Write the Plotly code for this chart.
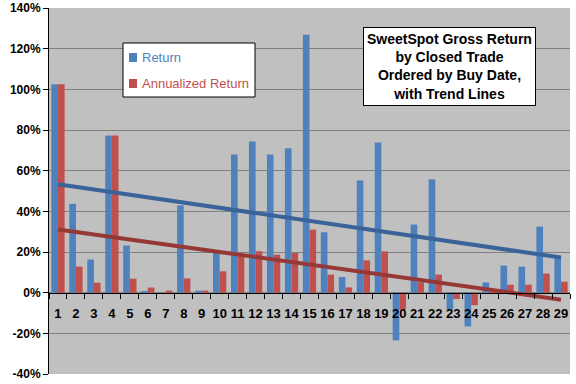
import numpy as np
import plotly.graph_objects as go

categories = [str(i) for i in range(1, 30)]
ret = [102.5, 43.7, 16.3, 77.3, 23.2, 0.5, 0.0, 42.9, 1.0, 19.5, 68.0, 74.4, 68.0, 71.0, 126.8,
       29.7, 7.7, 55.2, 73.9, -23.5, 33.5, 55.7, -8.4, -16.6, 5.0, 13.3, 12.8, 32.5, 17.4]
ann = [102.5, 12.8, 4.9, 77.3, 6.9, 2.5, 1.0, 7.0, 1.0, 10.5, 17.9, 20.4, 18.7, 19.5, 31.0,
       8.9, 2.6, 15.9, 20.3, -8.4, 5.1, 8.9, -3.1, -6.2, 0.3, 3.9, 3.9, 9.4, 5.4]
series_names = ["Return", "Annualized Return"]
y_ticks = list(range(-40, 141, 20))

xs = np.arange(1, len(categories) + 1)
fit_r = np.polyval(np.polyfit(xs, ret, 1), xs)
fit_a = np.polyval(np.polyfit(xs, ann, 1), xs)

BLUE = "#4F81BD"
RED = "#C0504D"
FONT = "Liberation Sans, Arial, sans-serif"

W, H = 576, 384
ML, MR, MT, MB = 49, 6, 8, 10
PW, PH = W - ML - MR, H - MT - MB


def px(x):
    return (x - ML) / PW


def py(y):
    return (H - MB - y) / PH


fig = go.Figure()
fig.add_trace(go.Bar(x=categories, y=ret, name=series_names[0],
                     marker=dict(color=BLUE, line=dict(width=0)), showlegend=False))
fig.add_trace(go.Bar(x=categories, y=ann, name=series_names[1],
                     marker=dict(color=RED, line=dict(width=0)), showlegend=False))
fig.add_trace(go.Scatter(x=categories, y=fit_r, mode="lines", line=dict(color="#3A6399", width=4),
                         showlegend=False))
fig.add_trace(go.Scatter(x=categories, y=fit_a, mode="lines", line=dict(color="#963836", width=4),
                         showlegend=False))

# manual legend (box, swatches, labels)
shapes = [
    dict(type="rect", xref="paper", yref="paper", x0=px(123), x1=px(255), y0=py(97), y1=py(43),
         fillcolor="white", line=dict(color="black", width=1), layer="above"),
    dict(type="rect", xref="paper", yref="paper", x0=px(129), x1=px(137), y0=py(62), y1=py(53),
         fillcolor=BLUE, line=dict(width=0), layer="above"),
    dict(type="rect", xref="paper", yref="paper", x0=px(129), x1=px(137), y0=py(88), y1=py(79),
         fillcolor=RED, line=dict(width=0), layer="above"),
]
annotations = [
    dict(xref="paper", yref="paper", x=px(140), y=py(57.5), xanchor="left", yanchor="middle",
         text=series_names[0], showarrow=False, font=dict(size=13, family=FONT, color=BLUE)),
    dict(xref="paper", yref="paper", x=px(140), y=py(83.5), xanchor="left", yanchor="middle",
         text=series_names[1], showarrow=False, font=dict(size=13, family=FONT, color=RED)),
    dict(xref="paper", yref="paper", x=px(449), y=py(67), xanchor="center", yanchor="middle",
         text="SweetSpot Gross Return<br>by Closed Trade<br>Ordered by Buy Date,<br>with Trend Lines",
         showarrow=False, align="center", bgcolor="white", bordercolor="black", borderwidth=1,
         borderpad=3, font=dict(size=14, family=FONT, color="black", weight="bold")),
]

fig.update_layout(
    width=W, height=H,
    margin=dict(l=ML, r=MR, t=MT, b=MB, autoexpand=False),
    paper_bgcolor="white", plot_bgcolor="#C0C0C0",
    barmode="group", bargap=0.26, bargroupgap=0,
    font=dict(family=FONT, color="black"),
    showlegend=False,
    xaxis=dict(type="category", anchor="free", position=40 / 180, automargin=False,
               range=[-0.5, len(categories) - 0.5],
               showline=True, linecolor="black", linewidth=1,
               ticks="outside", ticklen=5, tickcolor="black", tickson="boundaries",
               tickangle=0, showgrid=False,
               tickfont=dict(size=13, family=FONT, weight="bold"),
               ticklabelstandoff=9),
    yaxis=dict(range=[-40, 140], tickvals=y_ticks, ticktext=[f"{v}%" for v in y_ticks],
               automargin=False,
               showline=True, linecolor="black", linewidth=1,
               ticks="outside", ticklen=5, tickcolor="black",
               showgrid=True, gridcolor="#808080", gridwidth=1, zeroline=False,
               tickfont=dict(size=12, family=FONT, weight="bold")),
    shapes=shapes,
    annotations=annotations,
)

fig.write_html("out.html",
               config={"displayModeBar": False},
               post_script="document.body.style.margin='0px';document.body.style.overflow='hidden';")
